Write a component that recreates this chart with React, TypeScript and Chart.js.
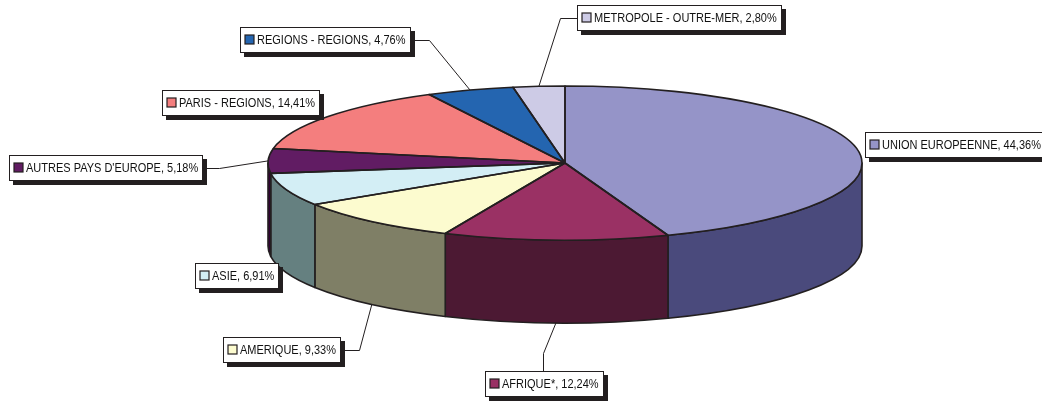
import React, { useEffect, useRef } from 'react';
import { Chart, registerables } from 'chart.js';

Chart.register(...registerables);

// ---------- data ----------
const categories = [
  'UNION EUROPEENNE',
  'AFRIQUE*',
  'AMERIQUE',
  'ASIE',
  "AUTRES PAYS D'EUROPE",
  'PARIS - REGIONS',
  'REGIONS - REGIONS',
  'METROPOLE - OUTRE-MER',
];
const shares = [44.36, 12.24, 9.33, 6.91, 5.18, 14.41, 4.76, 2.8];

// ---------- styles / layout ----------
const topColors = ['#9594C8', '#9A3164', '#FCFBCF', '#D3EEF5', '#611C63', '#F47E7E', '#2465B0', '#CDCBE6'];
const sideColors = ['#4A4A7C', '#4C1933', '#7F7F66', '#658080', '#320034', '#7A3F3F', '#123258', '#666573'];
const OUTLINE = '#231F20';
const W = 1042;
const H = 403;
const RADIUS = 297;
const TILT = 77 / 297;
const DEPTH = 83;
const FONT_PX = 13;
const SCALE_X = 0.846;
const BOX_H = 26;

type Box = { x: number; y: number; anchor: 'left' | 'right' | 'top' | null; ax?: number; ex: number; ey: number };
const labelBoxes: Box[] = [
  { x: 865, y: 132, anchor: null, ex: 0, ey: 0 },
  { x: 485, y: 371, anchor: 'top', ax: 58, ex: 0, ey: -18 },
  { x: 223, y: 337, anchor: 'right', ex: 18, ey: 0 },
  { x: 195, y: 263, anchor: null, ex: 0, ey: 0 },
  { x: 9, y: 155, anchor: 'right', ex: 16, ey: 0 },
  { x: 162, y: 90, anchor: null, ex: 0, ey: 0 },
  { x: 240, y: 27, anchor: 'right', ex: 18, ey: 0 },
  { x: 577, y: 5, anchor: 'left', ex: -17, ey: 0 },
];

const fmt = (v: number) => v.toFixed(2).replace('.', ',') + '%';

const pie3d = {
  id: 'pie3d',
  beforeDatasetsDraw(chart: any) {
    const ctx: CanvasRenderingContext2D = chart.ctx;
    const arcs = chart.getDatasetMeta(0).data as any[];
    chart.$squashed = false;
    if (!arcs.length) return;
    const { x: cx, y: cy, outerRadius: rx } = arcs[0].getProps(['x', 'y', 'outerRadius'], true);
    const ry = rx * TILT;
    ctx.save();
    ctx.lineWidth = 1.6;
    ctx.strokeStyle = OUTLINE;
    ctx.lineJoin = 'round';
    arcs.forEach((arc: any, i: number) => {
      const { startAngle, endAngle } = arc.getProps(['startAngle', 'endAngle'], true);
      const a1 = Math.max(startAngle, 0);
      const a2 = Math.min(endAngle, Math.PI);
      if (a2 <= a1) return;
      ctx.beginPath();
      ctx.ellipse(cx, cy, rx, ry, 0, a1, a2);
      ctx.lineTo(cx + rx * Math.cos(a2), cy + DEPTH + ry * Math.sin(a2));
      ctx.ellipse(cx, cy + DEPTH, rx, ry, 0, a2, a1, true);
      ctx.closePath();
      ctx.fillStyle = sideColors[i];
      ctx.fill();
      ctx.stroke();
    });
    ctx.restore();
    ctx.save();
    ctx.translate(cx, cy);
    ctx.scale(1, TILT);
    ctx.translate(-cx, -cy);
    chart.$squashed = true;
  },
  afterDatasetsDraw(chart: any) {
    const ctx: CanvasRenderingContext2D = chart.ctx;
    if (!chart.$squashed) return;
    ctx.restore();
    const arcs = chart.getDatasetMeta(0).data as any[];
    const { x: cx, y: cy, outerRadius: rx } = arcs[0].getProps(['x', 'y', 'outerRadius'], true);
    const ry = rx * TILT;
    // top outlines
    ctx.save();
    ctx.lineWidth = 1.6;
    ctx.strokeStyle = OUTLINE;
    ctx.lineJoin = 'round';
    arcs.forEach((arc: any) => {
      const { startAngle, endAngle } = arc.getProps(['startAngle', 'endAngle'], true);
      ctx.beginPath();
      ctx.moveTo(cx, cy);
      ctx.ellipse(cx, cy, rx, ry, 0, startAngle, endAngle);
      ctx.closePath();
      ctx.stroke();
    });
    ctx.restore();

    // labels
    ctx.save();
    ctx.font = `${FONT_PX}px "Liberation Sans", Arial, sans-serif`;
    ctx.textBaseline = 'middle';
    const labels = chart.data.labels as string[];
    const values = chart.data.datasets[0].data as number[];
    arcs.forEach((arc: any, i: number) => {
      const b = labelBoxes[i];
      const text = `${labels[i]}, ${fmt(values[i])}`;
      const tw = ctx.measureText(text).width * SCALE_X;
      const w = Math.round(17 + tw + 5);
      const h = BOX_H;
      // leader
      if (b.anchor) {
        const { startAngle, endAngle } = arc.getProps(['startAngle', 'endAngle'], true);
        const mid = (startAngle + endAngle) / 2;
        const px = cx + rx * Math.cos(mid);
        const py = cy + ry * Math.sin(mid) + (Math.sin(mid) > 0 ? DEPTH : 0);
        let sx = b.x, sy = b.y + h / 2;
        if (b.anchor === 'right') sx = b.x + w;
        if (b.anchor === 'top') { sx = b.x + (b.ax || 0); sy = b.y; }
        ctx.beginPath();
        ctx.lineWidth = 1;
        ctx.strokeStyle = '#231F20';
        ctx.moveTo(sx + 0.5, sy + 0.5);
        ctx.lineTo(sx + b.ex + 0.5, sy + b.ey + 0.5);
        ctx.lineTo(px, py);
        ctx.stroke();
      }
      // shadow
      ctx.fillStyle = OUTLINE;
      ctx.fillRect(b.x + 4, b.y + 4, w, h);
      ctx.fillStyle = '#FFFFFF';
      ctx.fillRect(b.x, b.y, w, h);
      ctx.lineWidth = 1;
      ctx.strokeStyle = '#231F20';
      ctx.strokeRect(b.x + 0.5, b.y + 0.5, w - 1, h - 1);
      // key
      const ky = Math.round(b.y + h / 2 - 5);
      ctx.fillStyle = topColors[i];
      ctx.fillRect(b.x + 5, ky, 9, 9);
      ctx.strokeStyle = OUTLINE;
      ctx.lineWidth = 1.2;
      ctx.strokeRect(b.x + 5, ky, 9, 9);
      // text
      ctx.save();
      ctx.translate(b.x + 17, b.y + h / 2 + 0.5);
      ctx.scale(SCALE_X, 1);
      ctx.fillStyle = '#111111';
      ctx.fillText(text, 0, 0);
      ctx.restore();
    });
    ctx.restore();
  },
};

export default function App() {
  const ref = useRef<HTMLCanvasElement | null>(null);
  useEffect(() => {
    if (!ref.current) return;
    const chart = new Chart(ref.current, {
      type: 'pie',
      data: {
        labels: categories,
        datasets: [
          {
            data: shares,
            backgroundColor: topColors,
            borderWidth: 0,
            radius: RADIUS,
            clip: false,
          } as any,
        ],
      },
      options: {
        animation: false,
        responsive: false,
        devicePixelRatio: 1,
        layout: { padding: { left: 88, right: 0, top: 0, bottom: 77 } },
        plugins: {
          legend: { display: false },
          tooltip: { enabled: false },
        },
        events: [],
      } as any,
      plugins: [pie3d],
    });
    return () => chart.destroy();
  }, []);
  return (
    <div style={{ position: 'fixed', left: 0, top: 0, width: W, height: H, background: '#fff' }}>
      <canvas ref={ref} width={W} height={H} style={{ width: W, height: H, display: 'block' }} />
    </div>
  );
}
